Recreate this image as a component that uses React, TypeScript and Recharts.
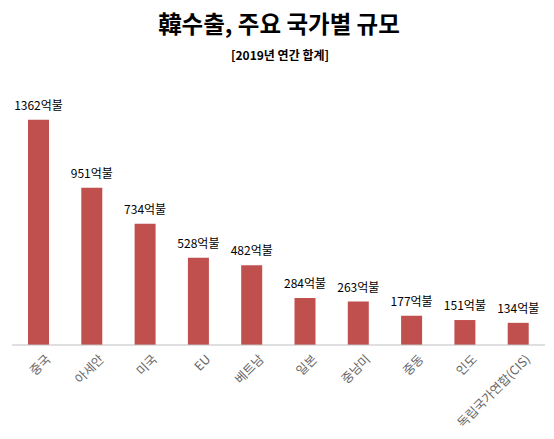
import { Bar, BarChart, LabelList, XAxis, YAxis } from "recharts";

const countries = ["중국", "아세안", "미국", "EU", "베트남", "일본", "중남미", "중동", "인도", "독립국가연합(CIS)"];
const exports2019 = [1362, 951, 734, 528, 482, 284, 263, 177, 151, 134];

const data = countries.map((name, i) => ({ name, value: exports2019[i] }));

const font = "'Noto Sans CJK KR', 'Noto Sans', sans-serif";

function SlantTick({ x, y, payload }: { x?: number; y?: number; payload?: { value: string } }) {
  return (
    <g transform={`translate(${x},${y})`}>
      <text
        x={0}
        y={0}
        dy={14}
        dx={4}
        textAnchor="end"
        fill="#666"
        fontSize={12.5}
        fontFamily={font}
        transform="rotate(-45)"
      >
        {payload?.value}
      </text>
    </g>
  );
}

export default function App() {
  return (
    <div style={{ position: "absolute", left: 0, top: 0, width: 554, height: 439, background: "#fff", fontFamily: font }}>
      <div style={{ position: "absolute", left: 2, width: 554, top: 7, textAlign: "center", fontSize: 23.5, fontWeight: 700, color: "#000", lineHeight: "32px" }}>
        韓수출, 주요 국가별 규모
      </div>
      <div style={{ position: "absolute", left: 3, width: 554, top: 46, textAlign: "center", fontSize: 12, fontWeight: 700, color: "#000", lineHeight: "18px" }}>
        [2019년 연간 합계]
      </div>
      <BarChart width={554} height={439} data={data} margin={{ top: 97, right: 9, left: 12, bottom: 0 }}>
        <YAxis hide domain={[0, 1500]} />
        <XAxis
          dataKey="name"
          interval={0}
          height={94}
          tickLine={false}
          axisLine={{ stroke: "#bfbfbf" }}
          tick={<SlantTick />}
        />
        <Bar dataKey="value" fill="#c0504d" barSize={21} isAnimationActive={false}>
          <LabelList
            dataKey="value"
            position="top"
            offset={10}
            formatter={(v: number) => `${v}억불`}
            fill="#000"
            fontSize={12}
            fontFamily={font}
          />
        </Bar>
      </BarChart>
    </div>
  );
}
